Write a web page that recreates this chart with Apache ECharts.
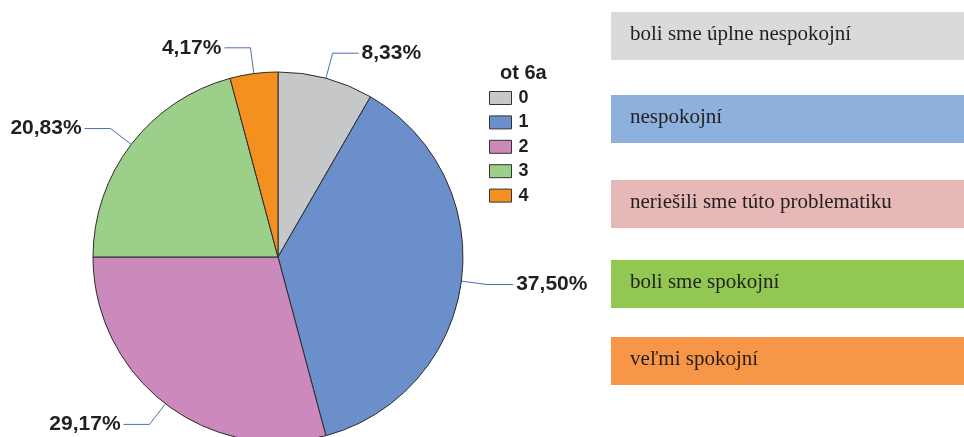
<!DOCTYPE html>
<html>
<head>
<meta charset="utf-8">
<script src="https://cdn.jsdelivr.net/npm/echarts@6/dist/echarts.min.js"></script>
<style>
  html, body { margin: 0; padding: 0; background: #fff; }
  #chart { width: 964px; height: 437px; }
</style>
</head>
<body>
<div id="chart"></div>
<script>
// answers to question 6a (counts out of 24 respondents)
const categories = ['0', '1', '2', '3', '4'];
const counts = [2, 9, 7, 5, 1];
const sliceColors = ['#c6c7c9', '#6b8fca', '#cc89bc', '#9ccf8a', '#f4901f'];

// explanation boxes on the right
const noteTexts = [
  'boli sme úplne nespokojní',
  'nespokojní',
  'neriešili sme túto problematiku',
  'boli sme spokojní',
  'veľmi spokojní'
];
const noteColors = ['#d9dadc', '#8db0dd', '#e6b8b7', '#92c851', '#f79646'];
const noteTops = [12, 95, 180, 260, 337];

const chart = echarts.init(document.getElementById('chart'));

const notes = [];
noteTexts.forEach((t, i) => {
  notes.push({
    type: 'rect',
    left: 611,
    top: noteTops[i],
    shape: { width: 353, height: 48 },
    style: { fill: noteColors[i] }
  });
  notes.push({
    type: 'text',
    left: 630,
    top: noteTops[i] + 12,
    style: {
      text: t,
      fill: '#231f20',
      font: '21px "Liberation Serif", "Times New Roman", serif'
    }
  });
});

const option = {
  animation: false,
  color: sliceColors,
  title: {
    text: 'ot 6a',
    left: 500,
    top: 63,
    padding: 0,
    textStyle: {
      fontFamily: '"Liberation Sans", Arial, sans-serif',
      fontWeight: 'bold',
      fontSize: 20,
      color: '#231f20'
    }
  },
  legend: {
    orient: 'vertical',
    left: 489,
    top: 89,
    padding: 0,
    icon: 'rect',
    itemWidth: 22,
    itemHeight: 13,
    itemGap: 6.4,
    data: categories,
    itemStyle: { borderColor: '#333', borderWidth: 1 },
    textStyle: {
      fontFamily: '"Liberation Sans", Arial, sans-serif',
      fontWeight: 'bold',
      fontSize: 18,
      color: '#231f20',
      padding: [0, 0, 0, 2]
    }
  },
  graphic: notes,
  series: [
    {
      type: 'pie',
      center: [278, 257],
      radius: 185,
      startAngle: 90,
      clockwise: true,
      avoidLabelOverlap: false,
      itemStyle: { borderColor: '#2b2b2b', borderWidth: 1 },
      label: {
        show: true,
        position: 'outside',
        distanceToLabelLine: 3,
        fontFamily: '"Liberation Sans", Arial, sans-serif',
        fontWeight: 'bold',
        fontSize: 21,
        color: '#231f20',
        formatter: p => p.percent.toFixed(2).replace('.', ',') + '%'
      },
      labelLine: {
        show: true,
        length: 26,
        length2: 26,
        lineStyle: { color: '#4a6fb5', width: 1 }
      },
      emphasis: { disabled: true },
      data: categories.map((c, i) => ({ name: c, value: counts[i] }))
    }
  ]
};

chart.setOption(option);
</script>
</body>
</html>
